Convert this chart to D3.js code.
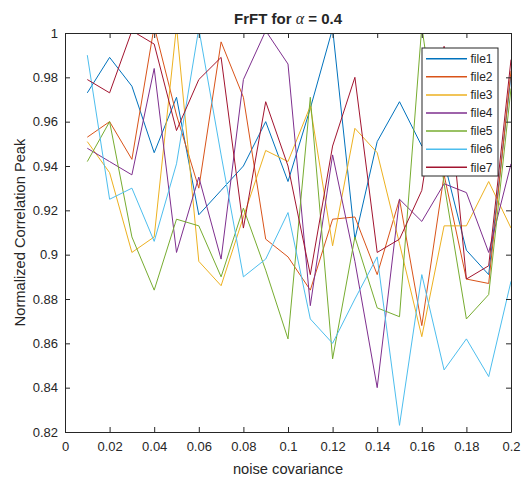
<!DOCTYPE html>
<html>
<head>
<meta charset="utf-8">
<script src="https://cdn.jsdelivr.net/npm/d3@7"></script>
<style>
  body { margin: 0; background: #fff; }
  text { font-family: "Liberation Sans", Arial, Helvetica, sans-serif; fill: #262626; }
</style>
</head>
<body>
<div id="chart"></div>
<script>
// DATA
// x values (noise covariance) and one array per file
var noise = [0.01, 0.02, 0.03, 0.04, 0.05, 0.06, 0.07, 0.08, 0.09, 0.10,
             0.11, 0.12, 0.13, 0.14, 0.15, 0.16, 0.17, 0.18, 0.19, 0.20];

var file1 = [0.973, 0.989, 0.976, 0.946, 0.971, 0.918, 0.929, 0.940, 0.960, 0.933,
             0.966, 1.002, 0.907, 0.951, 0.969, 0.949, 0.942, 0.902, 0.891, 0.981];
var file2 = [0.953, 0.960, 0.943, 1.003, 0.963, 0.930, 0.996, 0.971, 0.907, 0.899,
             0.884, 0.916, 0.917, 0.891, 0.925, 0.868, 0.936, 0.889, 0.887, 0.983];
var file3 = [0.951, 0.937, 0.901, 0.908, 1.003, 0.897, 0.886, 0.917, 0.947, 0.942,
             0.967, 0.904, 0.957, 0.946, 0.905, 0.863, 0.913, 0.913, 0.933, 0.912];
var file4 = [0.948, 0.942, 0.936, 0.984, 0.901, 0.935, 0.898, 0.979, 1.001, 0.986,
             0.877, 0.945, 0.897, 0.840, 0.925, 0.915, 0.932, 0.928, 0.901, 0.941];
var file5 = [0.942, 0.960, 0.908, 0.884, 0.916, 0.913, 0.890, 0.921, 0.893, 0.862,
             0.971, 0.853, 0.908, 0.876, 0.872, 1.003, 0.932, 0.871, 0.882, 0.975];
var file6 = [0.990, 0.925, 0.930, 0.906, 0.941, 1.002, 0.945, 0.890, 0.898, 0.919,
             0.871, 0.860, 0.880, 0.899, 0.823, 0.891, 0.848, 0.862, 0.845, 0.888];
var file7 = [0.979, 0.973, 1.001, 0.995, 0.956, 0.979, 0.989, 0.912, 0.969, 0.940,
             0.891, 0.949, 0.980, 0.901, 0.907, 0.929, 0.994, 0.889, 0.895, 0.988];

var seriesNames = ["file1", "file2", "file3", "file4", "file5", "file6", "file7"];
var seriesValues = [file1, file2, file3, file4, file5, file6, file7];
// MATLAB default line colours
var colors = ["#0072BD", "#D95319", "#EDB120", "#7E2F8E", "#77AC30", "#4DBEEE", "#A2142F"];

var xTicks = [0, 0.02, 0.04, 0.06, 0.08, 0.1, 0.12, 0.14, 0.16, 0.18, 0.2];
var yTicks = [0.82, 0.84, 0.86, 0.88, 0.9, 0.92, 0.94, 0.96, 0.98, 1];

// LAYOUT
var width = 528, height = 477;
var margin = {top: 33, right: 17, bottom: 45, left: 65};
var plotW = width - margin.left - margin.right,
    plotH = height - margin.top - margin.bottom;

var svg = d3.select("#chart")
    .append("svg")
    .attr("width", width)
    .attr("height", height)
    .style("display", "block");

svg.append("rect").attr("width", width).attr("height", height).attr("fill", "#fff");

var g = svg.append("g")
    .attr("transform", "translate(" + margin.left + "," + margin.top + ")");

var x = d3.scaleLinear().domain([0, 0.2]).range([0, plotW]);
var y = d3.scaleLinear().domain([0.82, 1]).range([plotH, 0]);

// clip lines to the axes box (values above 1 get cut like in MATLAB)
svg.append("defs").append("clipPath").attr("id", "clip")
  .append("rect").attr("width", plotW).attr("height", plotH);

var line = d3.line()
    .x(function(d, i) { return x(noise[i]); })
    .y(function(d) { return y(d); });

g.append("g")
    .attr("clip-path", "url(#clip)")
  .selectAll("path")
  .data(seriesValues)
  .enter()
  .append("path")
    .attr("d", line)
    .attr("fill", "none")
    .attr("stroke", function(d, i) { return colors[i]; })
    .attr("stroke-width", 1);

// AXES - ticks pointing inward, box on all four sides
var tickLen = 5;
var xAxis = d3.axisBottom(x).tickValues(xTicks).tickSizeInner(-tickLen).tickSizeOuter(0)
    .tickPadding(10).tickFormat(d3.format("~g"));
var yAxis = d3.axisLeft(y).tickValues(yTicks).tickSizeInner(-tickLen).tickSizeOuter(0)
    .tickPadding(7).tickFormat(d3.format("~g"));

var gx = g.append("g").attr("transform", "translate(0," + plotH + ")").call(xAxis);
var gy = g.append("g").call(yAxis);
var gxTop = g.append("g").call(d3.axisTop(x).tickValues(xTicks).tickSizeInner(-tickLen).tickSizeOuter(0).tickFormat(""));
var gyRight = g.append("g").attr("transform", "translate(" + plotW + ",0)")
    .call(d3.axisRight(y).tickValues(yTicks).tickSizeInner(-tickLen).tickSizeOuter(0).tickFormat(""));

[gx, gy, gxTop, gyRight].forEach(function(a) {
  a.select(".domain").attr("stroke", "#262626").attr("stroke-width", 1);
  a.selectAll(".tick line").attr("stroke", "#262626");
  a.selectAll("text").attr("font-size", "13px").attr("fill", "#262626")
      .style("font-family", "'Liberation Sans', Arial, sans-serif");
});

// LABELS
svg.append("text")
    .attr("x", margin.left + plotW / 2)
    .attr("y", 474)
    .attr("text-anchor", "middle")
    .attr("font-size", "14.7px")
    .text("noise covariance");

svg.append("text")
    .attr("transform", "translate(25," + (margin.top + plotH / 2) + ") rotate(-90)")
    .attr("text-anchor", "middle")
    .attr("font-size", "14.7px")
    .text("Normalized Correlation Peak");

var title = svg.append("text")
    .attr("x", margin.left + plotW / 2)
    .attr("y", 24)
    .attr("text-anchor", "middle")
    .attr("font-size", "15px")
    .attr("font-weight", "bold")
    .attr("fill", "#000");
title.append("tspan").text("FrFT for ");
title.append("tspan").attr("font-family", "'Liberation Serif', 'DejaVu Serif', serif")
    .attr("font-style", "italic").attr("font-weight", "normal").attr("font-size", "16px").text("\u03b1");
title.append("tspan").text(" = 0.4");

// LEGEND (upper right, inside the axes)
var legend = svg.append("g").attr("transform", "translate(422,48)");
var rowH = 18.1;
legend.append("rect")
    .attr("width", 76).attr("height", 128)
    .attr("fill", "#fff")
    .attr("stroke", "#262626")
    .attr("stroke-width", 1);

var item = legend.selectAll("g.item")
    .data(seriesNames)
    .enter()
    .append("g")
    .attr("class", "item")
    .attr("transform", function(d, i) { return "translate(0," + (10.7 + i * rowH) + ")"; });

item.append("line")
    .attr("x1", 4).attr("x2", 45)
    .attr("stroke", function(d, i) { return colors[i]; })
    .attr("stroke-width", 1.5);
item.append("text")
    .attr("x", 48.5)
    .attr("dy", "0.35em")
    .attr("font-size", "12px")
    .attr("fill", "#000")
    .text(function(d) { return d; });
</script>
</body>
</html>
